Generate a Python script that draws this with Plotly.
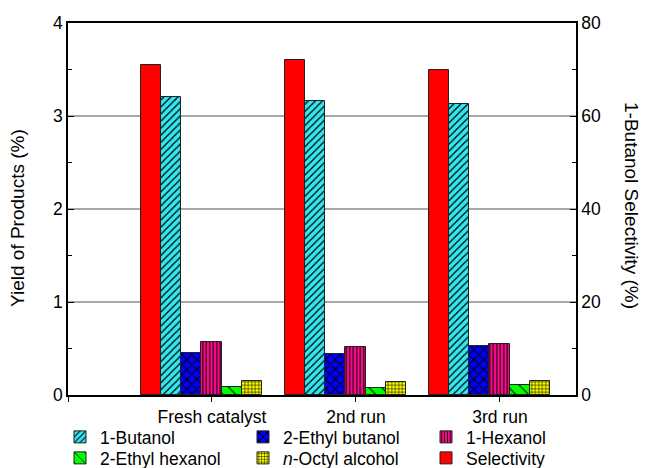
import plotly.graph_objects as go

# Catalyst runs and product yields (%)
runs = ["Fresh catalyst", "2nd run", "3rd run"]
run_pos = [1, 2, 3]
butanol = [3.20, 3.16, 3.13]
ethyl_butanol = [0.45, 0.44, 0.53]
hexanol = [0.57, 0.52, 0.55]
ethyl_hexanol = [0.09, 0.07, 0.11]
octyl_alcohol = [0.15, 0.14, 0.15]
# 1-Butanol selectivity (%), right axis
selectivity = [71, 72, 70]

FONT = "Liberation Sans, Arial, sans-serif"
FS = 17.5
FS_TITLE = 19
W, H = 647, 468
# plot frame in pixels
PL, PR, PT, PB = 68, 576, 23, 395
BAR_W = 0.14
START = -0.493  # left edge of the first bar of each group, relative to the run position

series = [
    ("1-Butanol", butanol, "#33e6f0", "/", 5, 0.25, 1, "legend"),
    ("2-Ethyl butanol", ethyl_butanol, "#0000ff", "x", 7, 0.3, 2, "legend"),
    ("1-Hexanol", hexanol, "#ff0a8c", "|", 3.5, 0.3, 3, "legend"),
    ("2-Ethyl hexanol", ethyl_hexanol, "#00ff00", "\\", 9, 0.12, 4, "legend2"),
    ("<i>n</i>-Octyl alcohol", octyl_alcohol, "#ffff00", "+", 3.5, 0.3, 5, "legend2"),
]

fig = go.Figure()
for name, vals, color, shape, size, sol, slot, leg in series:
    fig.add_trace(go.Bar(
        x=run_pos, y=vals, name=name, legend=leg,
        width=BAR_W, offset=START + slot * BAR_W,
        marker=dict(
            color=color,
            line=dict(color="#222222", width=1),
            pattern=dict(shape=shape, bgcolor=color, fgcolor="black",
                         size=size, solidity=sol, fillmode="replace"),
        ),
    ))

fig.add_trace(go.Bar(
    x=run_pos, y=selectivity, name="Selectivity", yaxis="y2", legend="legend2",
    width=BAR_W, offset=START,
    marker=dict(color="#ff0000", line=dict(color="#222222", width=1)),
))

# entrywidth counts only the text part; the symbol area adds ~45 px per column
legend_common = dict(
    orientation="h", xanchor="left", yanchor="middle",
    entrywidth=138, entrywidthmode="pixels",
    font=dict(family=FONT, size=FS, color="black"),
    itemclick=False, itemdoubleclick=False, bgcolor="rgba(0,0,0,0)",
)

axis_title = dict(xref="paper", yref="paper", xanchor="center", yanchor="middle",
                  showarrow=False, font=dict(family=FONT, size=FS_TITLE, color="black"))

fig.update_layout(
    width=W, height=H,
    margin=dict(l=0, r=0, t=0, b=0, autoexpand=False),
    paper_bgcolor="white", plot_bgcolor="white",
    font=dict(family=FONT, size=FS, color="black"),
    showlegend=True,
    legend=dict(x=60 / W, y=(H - 437) / H, **legend_common),
    legend2=dict(x=60 / W, y=(H - 458) / H, **legend_common),
    xaxis=dict(
        domain=[PL / W, PR / W], automargin=False,
        range=[0, 3.528], tickmode="array", tickvals=[0] + run_pos,
        ticktext=[""] + runs, ticks="outside", ticklen=5, tickcolor="black",
        showline=True, linecolor="black", linewidth=1.5, mirror=True,
        showgrid=False, zeroline=False,
        tickfont=dict(family=FONT, size=FS),
    ),
    yaxis=dict(
        domain=[(H - PB) / H, (H - PT) / H], automargin=False,
        range=[0, 4], dtick=1, ticks="inside", ticklen=6, tickcolor="black",
        minor=dict(dtick=0.5, ticks="inside", ticklen=4, tickcolor="black"),
        showline=True, linecolor="black", linewidth=1.5,
        showgrid=True, gridcolor="#a8a8a8", gridwidth=1.5, zeroline=False,
        tickfont=dict(family=FONT, size=FS),
    ),
    yaxis2=dict(
        range=[0, 80], dtick=20, overlaying="y", side="right", automargin=False,
        ticks="inside", ticklen=6, tickcolor="black",
        minor=dict(dtick=10, ticks="inside", ticklen=4, tickcolor="black"),
        showline=True, linecolor="black", linewidth=1.5,
        showgrid=False, zeroline=False,
        tickfont=dict(family=FONT, size=FS),
    ),
    annotations=[
        dict(text="Yield of Products (%)", textangle=-90,
             x=17 / W, y=(H - 218) / H, **axis_title),
        dict(text="1-Butanol Selectivity (%)", textangle=90,
             x=632 / W, y=(H - 205) / H, **axis_title),
    ],
    bargap=0,
)

fig.write_html("out.html")
